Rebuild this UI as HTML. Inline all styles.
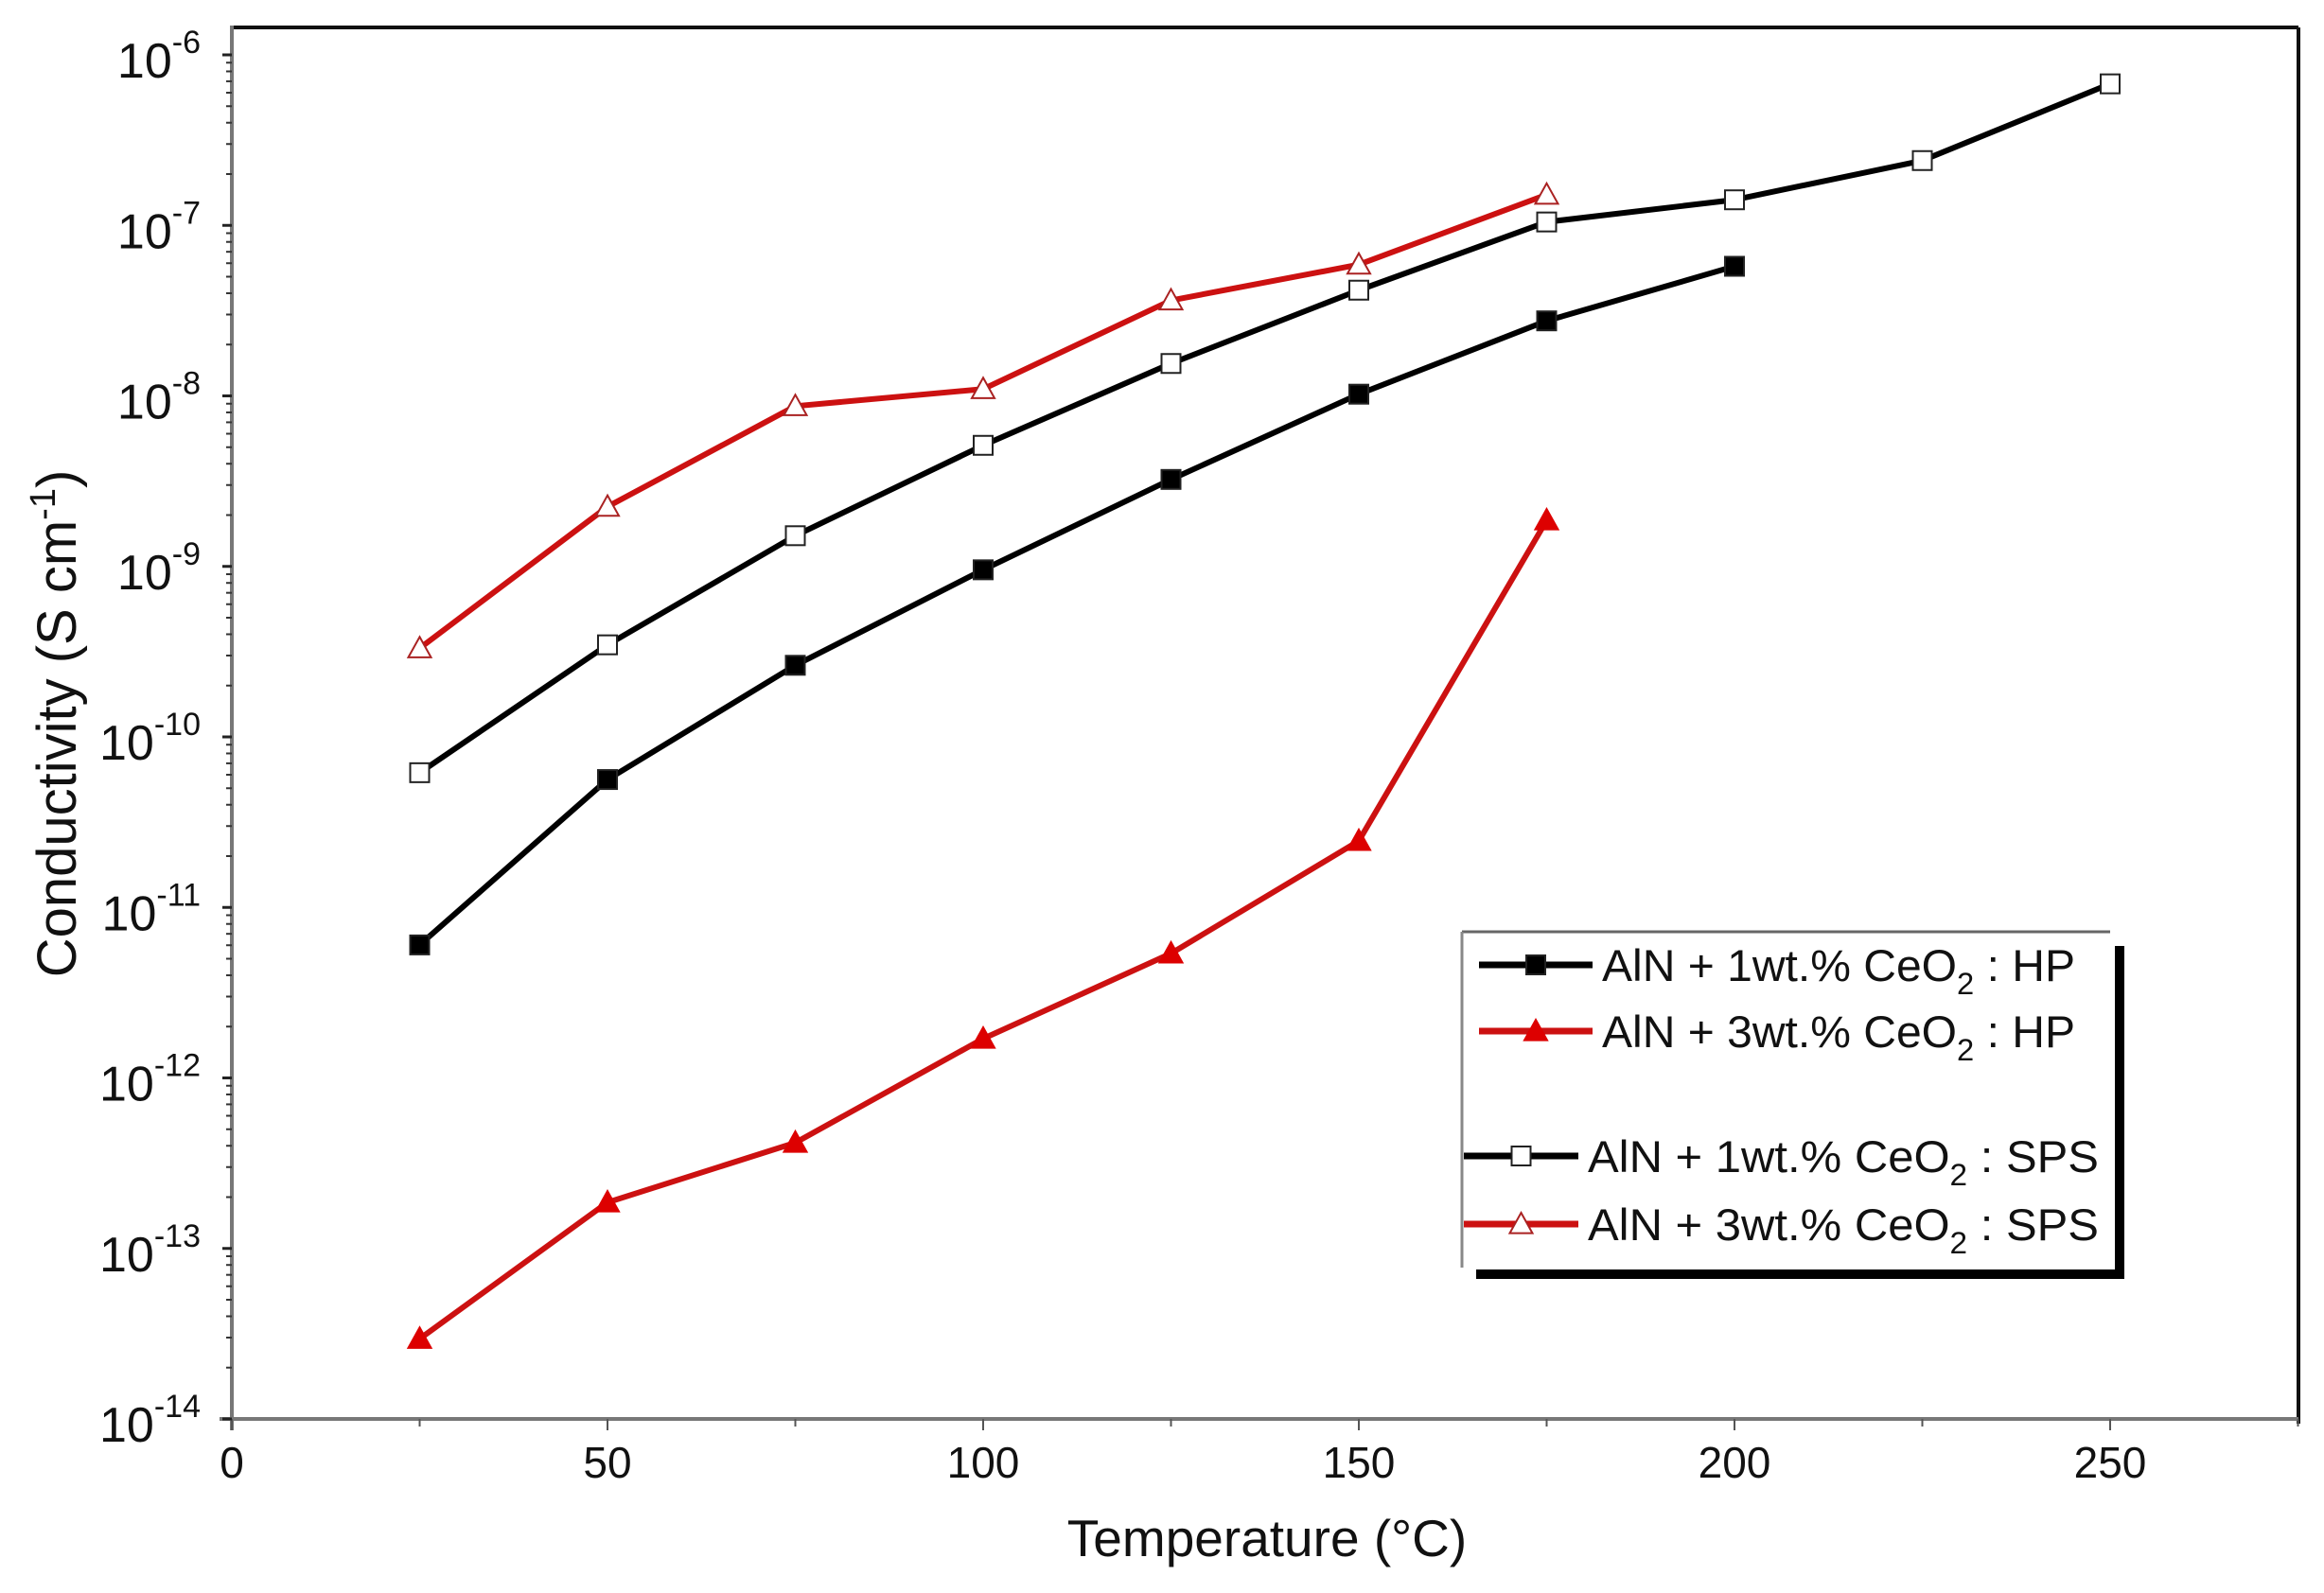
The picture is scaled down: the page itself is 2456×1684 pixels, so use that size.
<!DOCTYPE html>
<html><head><meta charset="utf-8"><style>
html,body{margin:0;padding:0;background:#fff;}
svg{display:block;font-family:"Liberation Sans",Arial,sans-serif;}
</style></head><body>
<svg id="chart" width="2456" height="1684" viewBox="0 0 2456 1684" xmlns="http://www.w3.org/2000/svg">
<g id="axes"></g><g id="series"></g><g id="legend"></g>
</svg>
<script>
const temps = [25,50,75,100,125,150,175,200,225,250];
const hp1Log = [-11.22,-10.25,-9.58,-9.02,-8.49,-7.99,-7.56,-7.24];
const hp3Log = [-13.53,-12.73,-12.38,-11.77,-11.27,-10.61,-8.73];
const sps1Log = [-10.21,-9.46,-8.82,-8.29,-7.81,-7.38,-6.98,-6.85,-6.62,-6.17];
const sps3Log = [-9.48,-8.65,-8.06,-7.96,-7.44,-7.23,-6.82];
const xTicks = [0,50,100,150,200,250];
const yExps = [-14,-13,-12,-11,-10,-9,-8,-7,-6];

const NS='http://www.w3.org/2000/svg';
const X0=245, XS=(2230-245)/250, YTOP=58, DEC=(1500-58)/8;
const xs=v=>X0+v*XS;
const ys=l=>YTOP+(-6-l)*DEC;
function mk(tag,attrs,parent){const e=document.createElementNS(NS,tag);for(const k in attrs)e.setAttribute(k,attrs[k]);parent.appendChild(e);return e;}
const axes=document.getElementById('axes'), series=document.getElementById('series'), legend=document.getElementById('legend');

let e;
e=mk('line',{x1:245,y1:29,x2:2429,y2:29,stroke:'#111','stroke-width':4},axes);

e=mk('line',{x1:2429,y1:29,x2:2429,y2:1505,stroke:'#111','stroke-width':4},axes);

e=mk('line',{x1:245,y1:27,x2:245,y2:1512,stroke:'#777','stroke-width':4},axes);

e=mk('line',{x1:232,y1:1500,x2:2429,y2:1500,stroke:'#777','stroke-width':4},axes);


for(let v=0;v<=275;v+=25){
  const t=mk('line',{x1:xs(v),y1:1500,x2:xs(v),y2:v%50===0?1512:1508,stroke:'#555','stroke-width':2},axes);
  
}
xTicks.forEach(v=>{
  const t=mk('text',{x:xs(v),y:1562,'font-size':46,'text-anchor':'middle',fill:'#111'},axes);
  t.textContent=v;
  
});
yExps.forEach(ex=>{
  const y=ys(ex);
  const t=mk('line',{x1:235,y1:y,x2:245,y2:y,stroke:'#222','stroke-width':3},axes);
  
  if(ex<-6){for(let m=2;m<=9;m++){const yy=ys(ex+Math.log10(m));
    const mt=mk('line',{x1:239,y1:yy,x2:245,y2:yy,stroke:'#333','stroke-width':2},axes);
    }}
  const lb=mk('text',{x:212,y:y+24,'font-size':52,'text-anchor':'end',fill:'#111'},axes);
  
  const a=mk('tspan',{},lb);a.textContent='10';
  const b=mk('tspan',{dy:-26,'font-size':34},lb);b.textContent=String(ex);
});
e=mk('text',{x:1339,y:1645,'font-size':55,'text-anchor':'middle',fill:'#111'},axes);
e.textContent='Temperature (°C)';

e=mk('text',{x:0,y:0,'font-size':58,'text-anchor':'middle',fill:'#111',transform:'translate(80,765) rotate(-90)'},axes);

mk('tspan',{},e).textContent='Conductivity (S cm';
mk('tspan',{dy:-22,'font-size':38},e).textContent='-1';
mk('tspan',{dy:22},e).textContent=')';

function marker(kind,x,y,color,parent){
  let m;
  const s=10;
  if(kind==='sq'||kind==='osq'){
    m=mk('rect',{x:x-s,y:y-s,width:2*s,height:2*s,fill:kind==='sq'?'#000':'#fff',stroke:'#222','stroke-width':2},parent);
  }else{
    const h=12;
    m=mk('polygon',{points:`${x},${y-h} ${x+h},${y+h*0.8} ${x-h},${y+h*0.8}`,fill:kind==='tri'?'#dd0000':'#fff',stroke:kind==='tri'?'#dd0000':'#aa2222','stroke-width':2},parent);
  }
  return m;
}
function drawSeries(name,vals,color,kind){
  const g=mk('g',{},series);
  
  const pts=vals.map((v,i)=>xs(temps[i])+','+ys(v)).join(' ');
  const l=mk('polyline',{points:pts,fill:'none',stroke:color,'stroke-width':6,'stroke-linejoin':'round'},g);
  
  vals.forEach((v,i)=>{const m=marker(kind,xs(temps[i]),ys(v),color,g);
    });
}
drawSeries('series-hp-1wt',hp1Log,'#000','sq');
drawSeries('series-hp-3wt',hp3Log,'#cc1111','tri');
drawSeries('series-sps-1wt',sps1Log,'#000','osq');
drawSeries('series-sps-3wt',sps3Log,'#cc1111','otri');

e=mk('line',{x1:1545,y1:985,x2:2230,y2:985,stroke:'#666','stroke-width':3},legend);

e=mk('line',{x1:1545,y1:985,x2:1545,y2:1340,stroke:'#888','stroke-width':3},legend);

e=mk('line',{x1:2240,y1:1000,x2:2240,y2:1352,stroke:'#000','stroke-width':10},legend);

e=mk('line',{x1:1560,y1:1347,x2:2245,y2:1347,stroke:'#000','stroke-width':10},legend);

const legItems=[
 {y:1020,x1:1563,x2:1683,tx:1693,c:'#000',k:'sq',p:'1wt.% CeO',s:' : HP'},
 {y:1090,x1:1563,x2:1683,tx:1693,c:'#cc1111',k:'tri',p:'3wt.% CeO',s:' : HP'},
 {y:1222,x1:1547,x2:1668,tx:1678,c:'#000',k:'osq',p:'1wt.% CeO',s:' : SPS'},
 {y:1294,x1:1547,x2:1668,tx:1678,c:'#cc1111',k:'otri',p:'3wt.% CeO',s:' : SPS'}];
legItems.forEach(it=>{
  const g=mk('g',{},legend);
  
  mk('line',{x1:it.x1,y1:it.y,x2:it.x2,y2:it.y,stroke:it.c,'stroke-width':7},g);
  marker(it.k,(it.x1+it.x2)/2,it.y,it.c,g);
  const t=mk('text',{x:it.tx,y:it.y+17,'font-size':47,fill:'#111',textLength:it.s.length>5?540:500,lengthAdjust:'spacingAndGlyphs'},g);
  mk('tspan',{},t).textContent='AlN + '+it.p;
  mk('tspan',{dy:14,'font-size':32},t).textContent='2';
  mk('tspan',{dy:-14},t).textContent=it.s;
});
</script>
</body></html>
